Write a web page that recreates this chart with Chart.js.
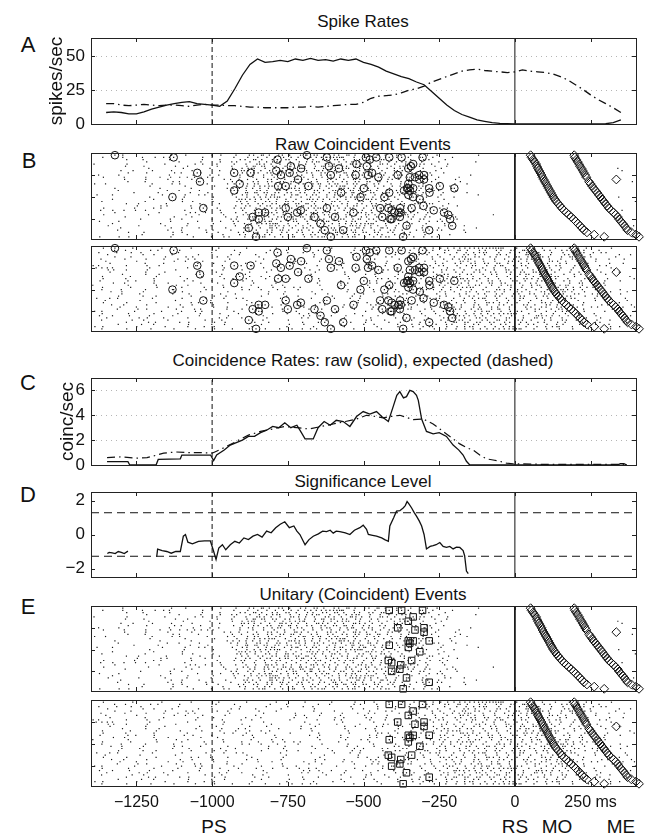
<!DOCTYPE html>
<html>
<head>
<meta charset="utf-8">
<script src="https://cdn.jsdelivr.net/npm/chart.js@4.4.1/dist/chart.umd.min.js"></script>
<style>
  body { margin: 0; background: #fff; }
  #fig { position: relative; width: 646px; height: 839px; font-family: "Liberation Sans", Arial, sans-serif; color: #111; overflow: hidden; }
  #fig canvas { position: absolute; left: 0; }
  .lbl { position: absolute; transform: translate(-50%, -50%); white-space: nowrap; line-height: 1; }
  .ttl { font-size: 17px; }
  .let { font-size: 22px; }
  .ev { font-size: 19px; }
</style>
</head>
<body>
<div id="fig">
  <div class="lbl ttl" style="left:363px;top:21px">Spike Rates</div>
  <div class="lbl ttl" style="left:363px;top:144px">Raw Coincident Events</div>
  <div class="lbl ttl" style="left:363px;top:360px">Coincidence Rates: raw (solid), expected (dashed)</div>
  <div class="lbl ttl" style="left:363px;top:481px">Significance Level</div>
  <div class="lbl ttl" style="left:363px;top:594px">Unitary (Coincident) Events</div>
  <div class="lbl let" style="left:28px;top:45px">A</div>
  <div class="lbl let" style="left:29px;top:161px">B</div>
  <div class="lbl let" style="left:28px;top:383px">C</div>
  <div class="lbl let" style="left:28px;top:495px">D</div>
  <div class="lbl let" style="left:28px;top:607px">E</div>
  <div class="lbl ev" style="left:214px;top:826px">PS</div>
  <div class="lbl ev" style="left:515px;top:826px">RS</div>
  <div class="lbl ev" style="left:557px;top:826px">MO</div>
  <div class="lbl ev" style="left:621px;top:826px">ME</div>
</div>
<script>
const FONT = '"Liberation Sans", Arial, sans-serif';

// time axis (ms), PS = -1000, RS = 0
const xMin = -1400, xMax = 400;
const xTicks = [-1250, -1000, -750, -500, -250, 0, 250];
const psTime = -1000, rsTime = 0;

// A: spike rates read every 25 ms
const rateTimes = [-1350, -1325, -1300, -1275, -1250, -1225, -1200, -1175, -1150, -1125, -1100, -1075, -1050, -1025, -1000,
    -975, -950, -925, -900, -875, -850, -825, -800, -775, -750, -725, -700, -675, -650, -625, -600, -575, -550, -525, -500,
    -475, -450, -425, -400, -375, -350, -325, -300, -275, -250, -225, -200, -175, -150, -125, -100, -75, -50, -25, 0,
    25, 50, 75, 100, 125, 150, 175, 200, 225, 250, 275, 300, 325, 350];
const rateUnit1 = [8.5, 9, 8.5, 7.5, 7.5, 9, 11, 12.5, 14, 15, 16, 16.5, 15, 14.5, 14,
    13, 17, 26, 36, 44, 48, 45.5, 46, 47, 46, 48, 47, 48.5, 47, 47.5, 46.5, 48, 47, 48, 45.5,
    44, 42, 39, 37, 35, 33.5, 31, 29, 24, 19, 14, 10, 7, 5, 3, 2, 1, 0.5, 0.2, 0,
    0, 0, 0, 0, 0, 0, 0, 0, 0, 0, 0, 0.2, 1, 3];
const rateUnit2 = [15, 15, 14, 13.5, 14, 14.5, 14, 13.5, 14, 14, 13.5, 13, 14, 14.5, 14,
    14, 13.5, 13.5, 13, 12.5, 12.5, 12, 12, 12, 12, 12.5, 12.5, 13, 12.5, 13, 13.5, 14, 14.5, 14.5, 16,
    19, 20.5, 21, 21.5, 23, 25, 26, 28, 31, 33, 35, 37, 39, 40, 40.5, 39.5, 39, 38.5, 38, 38.5,
    40, 39, 38.5, 38, 37, 35, 32.5, 29, 25.5, 21.5, 18, 15, 12, 8.5];

// C: coincidence rates (coinc/sec)
const cRawTime = [-1347, -1278, -1272, -1185, -1178, -1105, -1100, -1005, -995, -985,
    -960, -940, -920, -900, -880, -860, -840, -820, -800, -780,
    -760, -740, -720, -710, -693, -666, -650, -630, -610, -590,
    -567, -545, -523, -501, -479, -457, -440, -418, -402, -390,
    -380, -368, -358, -347, -336, -325, -319, -308, -292, -270,
    -250, -226, -204, -185, -171, -160, -149, 340, 348, 360, 370];
const cRawValue = [0.27, 0.27, 0, 0, 0.45, 0.5, 0.8, 0.8, 0.35, 0.8,
    1.2, 1.6, 1.8, 2.0, 2.3, 2.3, 2.6, 2.8, 3.1, 3.0,
    3.4, 3.0, 3.2, 2.8, 2.1, 2.1, 3.0, 3.5, 3.2, 3.6,
    3.5, 3.1, 3.9, 4.3, 4.1, 4.3, 3.9, 3.5, 4.7, 5.6,
    5.9, 5.4, 5.5, 6.0, 5.9, 5.6, 5.2, 3.7, 2.7, 2.5,
    2.6, 2.3, 1.6, 1.2, 0.8, 0.3, 0, 0, 0.1, 0.1, 0];
const cExpTime = [-1347, -1300, -1250, -1215, -1190, -1160, -1120, -1080, -1040, -1000,
    -960, -920, -880, -840, -800, -760, -720, -680, -640, -600,
    -560, -523, -490, -460, -435, -410, -380, -355, -336, -303,
    -270, -248, -226, -204, -182, -160, -138, -116, -94, -72,
    -50, -28, -6, 100, 250, 360];
const cExpValue = [0.6, 0.65, 0.55, 0.6, 0.75, 0.95, 1.05, 1.0, 1.0, 0.95,
    1.4, 1.9, 2.4, 2.7, 2.9, 3.1, 3.0, 2.9, 3.1, 3.3,
    3.5, 3.7, 4.0, 3.9, 3.8, 3.9, 4.0, 3.8, 3.65, 3.7,
    3.3, 2.9, 2.5, 2.1, 1.7, 1.4, 1.2, 0.8, 0.5, 0.4,
    0.3, 0.15, 0.1, 0.05, 0.05, 0.05];

// D: significance level (null = gap)
const sigTime = [-1346, -1340, -1330, -1320, -1310, -1300, -1290, -1278, -1230, -1183,
    -1180, -1165, -1150, -1135, -1120, -1105, -1095, -1088, -1080, -1065,
    -1045, -1025, -1006, -996, -987, -978, -966, -955, -940, -925,
    -910, -895, -880, -865, -850, -835, -820, -805, -790, -775,
    -760, -745, -730, -720, -710, -693, -680, -666, -649, -635,
    -622, -610, -600, -590, -578, -560, -545, -530, -512, -501,
    -490, -484, -470, -457, -440, -430, -418, -413, -400, -391,
    -380, -369, -362, -356, -350, -341, -333, -325, -316, -308,
    -300, -292, -280, -270, -260, -248, -237, -226, -215, -204,
    -193, -182, -171, -166, -160, -154];
const sigValue = [-1.12, -1.05, -1.08, -1.12, -1.0, -1.05, -1.12, -0.98, null, -1.31,
    -0.86, -0.95, -1.0, -1.1, -1.0, -1.0, -0.1, 0.0, -0.45, -0.55,
    -0.4, -0.38, -0.37, -0.93, -1.47, -0.8, -0.6, -0.9, -0.6, -0.4,
    -0.5, -0.2, -0.3, -0.1, 0.0, -0.15, 0.2, 0.1, 0.4, 0.6,
    0.75, 0.4, 0.5, 0.2, 0.0, -0.6, -0.3, -0.1, 0.04, 0.2,
    0.17, 0.25, 0.08, 0.2, 0.17, 0.1, 0.0, 0.25, 0.4, 0.55,
    0.3, 0.0, -0.05, -0.1, -0.2, -0.3, -0.4, 0.5, 1.0, 1.37,
    1.4, 1.56, 1.7, 1.94, 1.8, 1.56, 1.3, 1.08, 0.8, 0.5,
    0.0, -0.85, -0.7, -0.66, -0.6, -0.47, -0.7, -0.76, -0.7, -0.85,
    -0.75, -0.76, -0.95, -1.25, -2.15, -2.3];
const sigThresholds = [1.28, -1.28];

// B: raw coincidences (time, trial)
const coincTime = [-1321, -1127, -1049, -1040, -1131, -1029, -927, -873, -909, -927,
    -879, -855, -866, -846, -784, -788, -773, -782, -757, -744,
    -740, -757, -750, -719, -707, -716, -706, -687, -682, -662,
    -642, -628, -621, -614, -608, -621, -608, -594, -581, -574,
    -567, -533, -526, -523, -510, -499, -492, -485, -489, -479,
    -472, -458, -451, -445, -438, -411, -431, -397, -366, -356,
    -352, -347, -343, -336, -316, -316, -302, -282, -268, -248,
    -234, -220, -214, -207, -200, -384, -379, -825, -846];
const coincTrial = [1, 2, 9, 13, 20, 25, 9, 9, 14, 17,
    34, 38, 29, 27, 3, 8, 10, 15, 15, 9,
    6, 25, 29, 27, 26, 12, 7, 1, 15, 29,
    32, 35, 2, 6, 10, 25, 38, 29, 7, 18,
    35, 27, 10, 5, 20, 16, 2, 10, 6, 3,
    9, 2, 11, 25, 29, 30, 20, 27, 17, 16,
    14, 11, 6, 20, 12, 10, 24, 18, 26, 15,
    27, 28, 30, 33, 16, 27, 25, 27, 30];

// E: unitary events (time, trial)
const ueTime = [-415, -374, -305, -336, -352, -387, -300, -330, -300, -352, -347, -336, -283,
    -415, -352, -314, -341, -418, -407, -377, -380, -407, -358, -283, -369];
const ueTrial = [2, 2, 2, 5, 7, 10, 10, 11, 12, 16, 17, 16, 16, 18, 19, 21, 25, 25, 26, 27, 29, 30, 33, 35, 38];

// movement onset / end per trial (sorted by MO)
const moTime = [52, 55, 60, 65, 70, 73, 76, 80, 84, 88, 91, 95, 99, 103, 107, 111, 115, 119, 123, 127,
    132, 137, 143, 149, 155, 162, 170, 178, 186, 194, 201, 208, 215, 222, 228, 238, 262, 295];
const meTime = [196, 198, 203, 207, 212, 215, 220, 224, 228, 232, 236, 335, 245, 250, 255, 260, 266, 272, 277, 283,
    288, 294, 299, 305, 310, 318, 326, 333, 340, 344, 350, 356, 362, 367, 372, 385, 400, 410];
const trialIds = moTime.map((_, i) => i + 1);

function minus(v) {
    return String(v).replace('-', '\u2212');
}

function pts(xs, ys) {
    return xs.map((x, i) => ({ x: x, y: ys[i] }));
}

function frac(v) {
    return v - Math.floor(v);
}

function rateAt(rates, t) {
    const last = rateTimes.length - 1;
    if (t <= rateTimes[0]) return rates[0];
    if (t >= rateTimes[last]) return rates[last];
    let i = 0;
    while (rateTimes[i + 1] < t) i++;
    const f = (t - rateTimes[i]) / (rateTimes[i + 1] - rateTimes[i]);
    return rates[i] + f * (rates[i + 1] - rates[i]);
}

// raster dots: each trial integrates the rate curve of panel A,
// with a fixed irrational step per trial for the spike thresholds (no random numbers)
function spikeDots(rates, shift, extraT, extraTr) {
    const dots = [];
    trialIds.forEach(tr => {
        const step = frac(Math.sqrt(2 + tr * 3 + shift * 7));
        const offset = frac(Math.sqrt(5 + tr * 11 + shift * 13));
        let acc = offset;
        let n = 0;
        let need = 0.25 + 1.5 * frac(offset + step);
        for (let t = xMin; t <= xMax; t++) {
            acc += rateAt(rates, t) / 1000;
            if (acc >= need) {
                dots.push({ x: t, y: tr });
                acc -= need;
                n++;
                need = 0.25 + 1.5 * frac(offset + (n + 1) * step);
            }
        }
    });
    extraT.forEach((t, i) => dots.push({ x: t, y: extraTr[i] }));
    return dots;
}

function lineSet(data, dash, width) {
    return {
        data: data, showLine: true, borderColor: '#111', borderWidth: width || 1.2,
        borderDash: dash || [], pointRadius: 0, tension: 0
    };
}

function eventLines(lo, hi) {
    return [
        lineSet([{ x: psTime, y: lo }, { x: psTime, y: hi }], [5, 3], 1),
        lineSet([{ x: rsTime, y: lo }, { x: rsTime, y: hi }], [], 1)
    ];
}

function markerSet(xs, ys, style, radius) {
    return {
        data: pts(xs, ys), showLine: false, pointStyle: style, pointRadius: radius,
        pointBorderColor: '#111', pointBackgroundColor: 'rgba(0,0,0,0)', pointBorderWidth: 1, clip: false
    };
}

function rasterSets(rates, shift, markerT, markerTr, style, radius) {
    return [
        {
            data: spikeDots(rates, shift, markerT, markerTr), showLine: false, pointStyle: 'rect',
            pointRadius: 0.85, pointBackgroundColor: '#1a1a1a', pointBorderWidth: 0
        },
        ...eventLines(0, 39),
        markerSet(markerT, markerTr, style, radius),
        markerSet(moTime, trialIds, 'rectRot', 4.4),
        markerSet(meTime, trialIds, 'rectRot', 4.4)
    ];
}

const frameTicks = {
    id: 'frameTicks',
    beforeDatasetsDraw(chart, args, opts) {
        if (!opts.grid) return;
        const { ctx, chartArea: a, scales: { y } } = chart;
        ctx.save();
        ctx.strokeStyle = '#b5b5b5';
        ctx.lineWidth = 1;
        ctx.setLineDash([1, 4]);
        y.ticks.forEach(t => {
            if (t.value === 0) return;
            const py = Math.round(y.getPixelForValue(t.value)) + 0.5;
            ctx.beginPath();
            ctx.moveTo(a.left, py);
            ctx.lineTo(a.right, py);
            ctx.stroke();
        });
        ctx.restore();
    },
    afterDatasetsDraw(chart) {
        const { ctx, chartArea: a, scales: { x, y } } = chart;
        const len = 4;
        ctx.save();
        ctx.strokeStyle = '#222';
        ctx.lineWidth = 1;
        ctx.strokeRect(Math.round(a.left) + 0.5, Math.round(a.top) + 0.5,
            Math.round(a.right - a.left), Math.round(a.bottom - a.top));
        ctx.beginPath();
        x.ticks.forEach(t => {
            const px = Math.round(x.getPixelForValue(t.value)) + 0.5;
            ctx.moveTo(px, a.bottom); ctx.lineTo(px, a.bottom - len);
            ctx.moveTo(px, a.top); ctx.lineTo(px, a.top + len);
        });
        y.ticks.forEach(t => {
            const py = Math.round(y.getPixelForValue(t.value)) + 0.5;
            ctx.moveTo(a.left, py); ctx.lineTo(a.left + len, py);
            ctx.moveTo(a.right, py); ctx.lineTo(a.right - len, py);
        });
        ctx.stroke();
        ctx.restore();
    }
};

const PAD = 20;

function createPanel(p) {
    const xh = p.xLabels ? 35 : 0;
    const canvas = document.createElement('canvas');
    canvas.id = p.id;
    canvas.width = 646;
    canvas.height = (p.bottom - p.top) + 2 * PAD + xh;
    canvas.style.top = (p.top - PAD) + 'px';
    document.getElementById('fig').appendChild(canvas);

    return new Chart(canvas.getContext('2d'), {
        type: 'scatter',
        data: { datasets: p.datasets },
        options: {
            responsive: false,
            animation: false,
            layout: { padding: { left: 0, right: 10, top: PAD, bottom: PAD } },
            plugins: {
                legend: { display: false },
                tooltip: { enabled: false },
                frameTicks: { grid: !!p.grid }
            },
            scales: {
                x: {
                    type: 'linear', min: xMin, max: xMax,
                    grid: { display: false, drawTicks: false },
                    border: { display: false },
                    afterBuildTicks: s => { s.ticks = xTicks.map(v => ({ value: v })); },
                    afterFit: s => { s.height = xh; },
                    ticks: {
                        display: !!p.xLabels, autoSkip: false, maxRotation: 0, padding: 7,
                        color: '#111', font: { family: FONT, size: 16 },
                        callback: v => v === 250 ? '250 ms' : minus(v)
                    }
                },
                y: {
                    type: 'linear', min: p.yMin, max: p.yMax, reverse: !!p.reverse,
                    grid: { display: false, drawTicks: false },
                    border: { display: false },
                    afterBuildTicks: s => { s.ticks = p.yTicks.map(v => ({ value: v })); },
                    afterFit: s => { s.width = 91; },
                    ticks: {
                        display: !!p.yLabels, padding: 6, color: '#111',
                        font: { family: FONT, size: 17 }, callback: v => minus(v)
                    },
                    title: {
                        display: !!p.yTitle, text: p.yTitle || '', color: '#111',
                        font: { family: FONT, size: 19 }, padding: { top: p.titlePad || 0, bottom: 0 }
                    }
                }
            }
        },
        plugins: [frameTicks]
    });
}

const coincAllT = coincTime.concat(ueTime);
const coincAllTr = coincTrial.concat(ueTrial);

const panels = [
    {
        id: 'spikeRates', top: 38, bottom: 124, yMin: 0, yMax: 63.5, yTicks: [0, 25, 50],
        yLabels: true, yTitle: 'spikes/sec', titlePad: 45, grid: true,
        datasets: [
            lineSet(pts(rateTimes, rateUnit1), [], 1.3),
            lineSet(pts(rateTimes, rateUnit2), [8, 4, 1.5, 4], 1.3),
            ...eventLines(0, 63.5)
        ]
    },
    {
        id: 'rawUnit1', top: 153, bottom: 239, yMin: 0, yMax: 39, reverse: true, yTicks: [10, 20, 30],
        datasets: rasterSets(rateUnit1, 0.1, coincAllT, coincAllTr, 'circle', 3.8)
    },
    {
        id: 'rawUnit2', top: 246, bottom: 331, yMin: 0, yMax: 39, reverse: true, yTicks: [10, 20, 30],
        datasets: rasterSets(rateUnit2, 0.55, coincAllT, coincAllTr, 'circle', 3.8)
    },
    {
        id: 'coincRates', top: 378, bottom: 465, yMin: 0, yMax: 7, yTicks: [0, 2, 4, 6],
        yLabels: true, yTitle: 'coinc/sec', titlePad: 56, grid: true,
        datasets: [
            lineSet(pts(cRawTime, cRawValue), [], 1.3),
            lineSet(pts(cExpTime, cExpValue), [8, 4, 1.5, 4], 1.2),
            ...eventLines(0, 7)
        ]
    },
    {
        id: 'significance', top: 492, bottom: 577, yMin: -2.5, yMax: 2.5, yTicks: [-2, 0, 2],
        yLabels: true,
        datasets: [
            lineSet(pts(sigTime, sigValue), [], 1.3),
            lineSet([{ x: xMin, y: sigThresholds[0] }, { x: xMax, y: sigThresholds[0] }], [8, 5], 1),
            lineSet([{ x: xMin, y: sigThresholds[1] }, { x: xMax, y: sigThresholds[1] }], [8, 5], 1),
            ...eventLines(-2.5, 2.5)
        ]
    },
    {
        id: 'ueUnit1', top: 606, bottom: 691, yMin: 0, yMax: 39, reverse: true, yTicks: [10, 20, 30],
        datasets: rasterSets(rateUnit1, 0.1, ueTime, ueTrial, 'rect', 4.6)
    },
    {
        id: 'ueUnit2', top: 700, bottom: 786, yMin: 0, yMax: 39, reverse: true, yTicks: [10, 20, 30],
        xLabels: true,
        datasets: rasterSets(rateUnit2, 0.55, ueTime, ueTrial, 'rect', 4.6)
    }
];

for (const p of panels) {
    try {
        createPanel(p);
    } catch (error) {
        console.error(`Failed to create panel ${p.id}:`, error);
    }
}
</script>
</body>
</html>
